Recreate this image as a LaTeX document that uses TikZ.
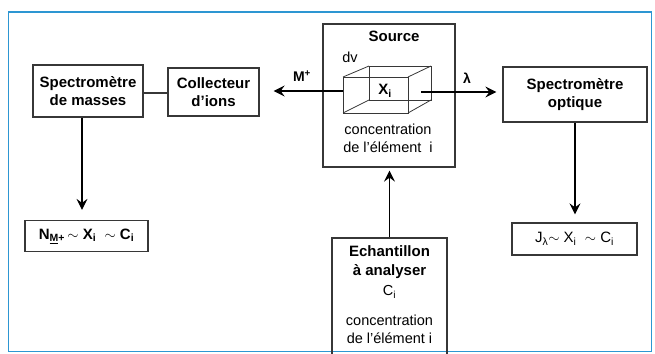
\documentclass[tikz,border=0pt]{standalone}
\usepackage{fontspec}
\setmainfont{Liberation Sans}[Ligatures=ResetAll]
\usepackage{tikz}
\usetikzlibrary{arrows,arrows.meta}
\usepackage{amsmath}
\usepackage{color}
\definecolor{frameblue}{RGB}{45,150,210}
\definecolor{boxgray}{RGB}{55,55,55}
\tikzstyle{box} = [rectangle, draw=boxgray, line width=1.3pt, align=center, inner sep=0pt, font=\bfseries\fontsize{15}{18}\selectfont]
\tikzstyle{txt} = [align=center, inner sep=0pt, font=\fontsize{14.5}{18}\selectfont]
\tikzset{edge/.style = {
    line width=1.2pt, draw=black,
    -{Stealth[length=11pt,width=11pt,inset=4pt]},
  }
}

\begin{document}
\begin{tikzpicture}[x=1pt,y=-1pt]
            \clip (0,0) rectangle (655,353);
            \draw[frameblue, line width=1.4pt] (8.5,12) rectangle (651.5,351.5);

            % boxes
            \node[box, minimum width=110pt, minimum height=52pt] (masses) at (88 , 91) {Spectromètre\\de masses};
            \node[box, minimum width=91pt, minimum height=48pt] (collect) at (213.5 , 92) {Collecteur\\d'ions};
            \node[box, minimum width=132pt, minimum height=143pt] (source) at (389 , 95.5) {};
            \node[box, minimum width=144pt, minimum height=55pt] (optique) at (575 , 94.5) {Spectromètre\\optique};
            \node[box, minimum width=123pt, minimum height=31pt] (nm) at (86.5 , 236) {N\textsubscript{\underline{M}+}\,$\sim$\ X\textsubscript{i}\ \ $\sim$\ C\textsubscript{i}};
            \node[box, font=\fontsize{15}{18}\selectfont, minimum width=125pt, minimum height=32pt] (jl) at (574.5 , 239) {J\textsubscript{λ}$\sim$\ X\textsubscript{i}\ \ $\sim$\ C\textsubscript{i}};
            \node[box, minimum width=115pt, minimum height=130pt] (echant) at (389.5 , 303) {};

            % texts in source
            \node[txt, font=\bfseries\fontsize{15}{18}\selectfont] (srctitle) at (394 , 36) {Source};
            \node[txt] (dv) at (350 , 57) {dv};
            \node[txt] (srcconc) at (388 , 138) {concentration\\de l'élément\ \ i};

            % cube
            \coordinate (f1) at (343 , 77);
            \coordinate (f2) at (408 , 113);
            \coordinate (b1) at (369 , 66);
            \coordinate (b2) at (431 , 100);
            \draw[boxgray, line width=0.8pt] (f1) rectangle (f2);
            \draw[boxgray, line width=0.8pt] (b1) rectangle (b2);
            \draw[boxgray, line width=0.8pt] (f1) -- (b1);
            \draw[boxgray, line width=0.8pt] (f2 |- f1) -- (b2 |- b1);
            \draw[boxgray, line width=0.8pt] (f2) -- (b2);
            \draw[boxgray, line width=0.8pt] (f1 |- f2) -- (b1 |- b2);
            \node[txt, font=\bfseries\fontsize{15}{18}\selectfont] (xi) at (385 , 91) {X\textsubscript{i}};
            \coordinate (cl) at (343 , 91);
            \coordinate (cr) at (421 , 92);

            % texts in echantillon
            \node[txt, font=\bfseries\fontsize{15}{19}\selectfont] (echtitle) at (389.5 , 262) {Echantillon\\à analyser};
            \node[txt] (ci) at (389.5 , 292) {C\textsubscript{i}};
            \node[txt] (echconc) at (389.5 , 329) {concentration\\de l'élément i};

            % labels
            \node[txt, font=\bfseries\fontsize{14}{18}\selectfont] (mplus) at (302 , 76) {M\textsuperscript{+}};
            \node[txt, font=\bfseries\fontsize{14}{18}\selectfont] (lambda) at (467 , 78) {λ};

            % lines
            \draw[boxgray, line width=1.2pt] (masses.east |- 0,93) -- (collect.west |- 0,93);
            \draw[edge, shorten >=14pt] (cl) -- (cl -| collect.east);
            \draw[edge, shorten >=6pt] (cr) -- (cr -| optique.west);
            \draw[edge, shorten >=10pt] ([xshift=-6pt]masses.south) -- ([xshift=-6pt]masses.south |- nm.north);
            \draw[edge, shorten >=8pt] (optique.south) -- (optique.south |- jl.north);
            \draw[edge, shorten >=3pt] (echant.north) -- (echant.north |- source.south);

          \end{tikzpicture}
\end{document}
